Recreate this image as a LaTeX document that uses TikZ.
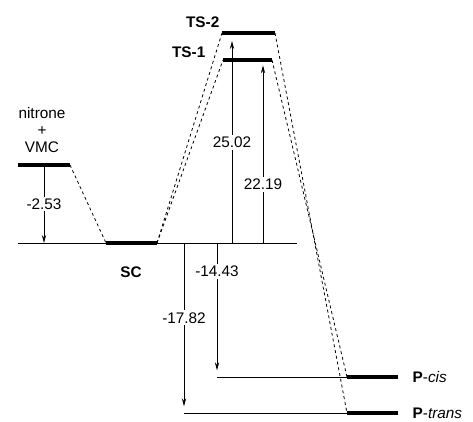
\documentclass[tikz,border=0pt]{standalone}
\usepackage{fontspec}
\setmainfont{Liberation Sans}
\usetikzlibrary{arrows.meta}

\begin{document}
\begin{tikzpicture}[x=0.75pt,y=-0.75pt,font=\fontsize{11.5}{13}\selectfont,
  level/.style={line width=2.3pt},
  link/.style={dash pattern=on 2.2pt off 2.2pt,line width=0.6pt},
  gap/.style={-{Stealth[length=6pt,width=3.2pt]},line width=0.6pt},
  val/.style={fill=white,inner sep=1.5pt},
  lab/.style={font=\fontsize{11.5}{13}\selectfont\bfseries}]

\useasboundingbox (0,0) rectangle (473,421);

% energy levels
\coordinate (vmcL) at (18,165);  \coordinate (vmcR) at (70,165);
\coordinate (scL)  at (106,243); \coordinate (scR)  at (157,243);
\coordinate (ts1L) at (223,60);  \coordinate (ts1R) at (272,60);
\coordinate (ts2L) at (222,33);  \coordinate (ts2R) at (275,33);
\coordinate (pcL)  at (347,377); \coordinate (pcR)  at (398,377);
\coordinate (ptL)  at (347,413); \coordinate (ptR)  at (398,413);
\coordinate (zL)   at (18,243);  \coordinate (zR)   at (297,243);

% arrow columns
\coordinate (c1) at (44,0);
\coordinate (c2) at (232,0);
\coordinate (c3) at (263,0);
\coordinate (c4) at (217,0);
\coordinate (c5) at (184,0);

\draw[line width=0.6pt] (zL) -- (zR);
\draw[line width=0.6pt] (c4 |- pcL) -- (pcL);
\draw[line width=0.6pt] (c5 |- ptL) -- (ptL);

\draw[link] (vmcR) -- (scL);
\draw[link] (scR) -- (ts1L);
\draw[link] (scR) -- (ts2L);
\draw[link] (ts1R) -- (pcL);
\draw[link] (ts2R) -- (ptL);

\draw[gap] (c1 |- vmcL) -- node[val] {-2.53} (c1 |- zL);
\draw[gap,shorten >=6pt] (c2 |- zL) -- node[val,pos=0.48] {25.02} (c2 |- ts2L);
\draw[gap,shorten >=4pt] (c3 |- zL) -- node[val,pos=0.32] {22.19} (c3 |- ts1L);
\draw[gap,shorten >=5pt] (c4 |- zL) -- node[val,pos=0.21] {-14.43} (c4 |- pcL);
\draw[gap,shorten >=5pt] (c5 |- zL) -- node[val,pos=0.44] {-17.82} (c5 |- ptL);

\draw[level] (vmcL) -- (vmcR);
\draw[level] (scL) -- (scR);
\draw[level] (ts1L) -- (ts1R);
\draw[level] (ts2L) -- (ts2R);
\draw[level] (pcL) -- (pcR);
\draw[level] (ptL) -- (ptR);

\node[align=center] (vmc) at (42,130) {nitrone\\+\\VMC};
\node[lab] (sc) at (131,272) {SC};
\node[lab,anchor=east] (ts1) at (210,52) {TS-1};
\node[lab,anchor=east] (ts2) at (224,22) {TS-2};
\node[anchor=west] (pc) at (408,377) {\textbf{P}-\textit{cis}};
\node[anchor=west] (pt) at (408,413) {\textbf{P}-\textit{trans}};
\end{tikzpicture}
\end{document}
